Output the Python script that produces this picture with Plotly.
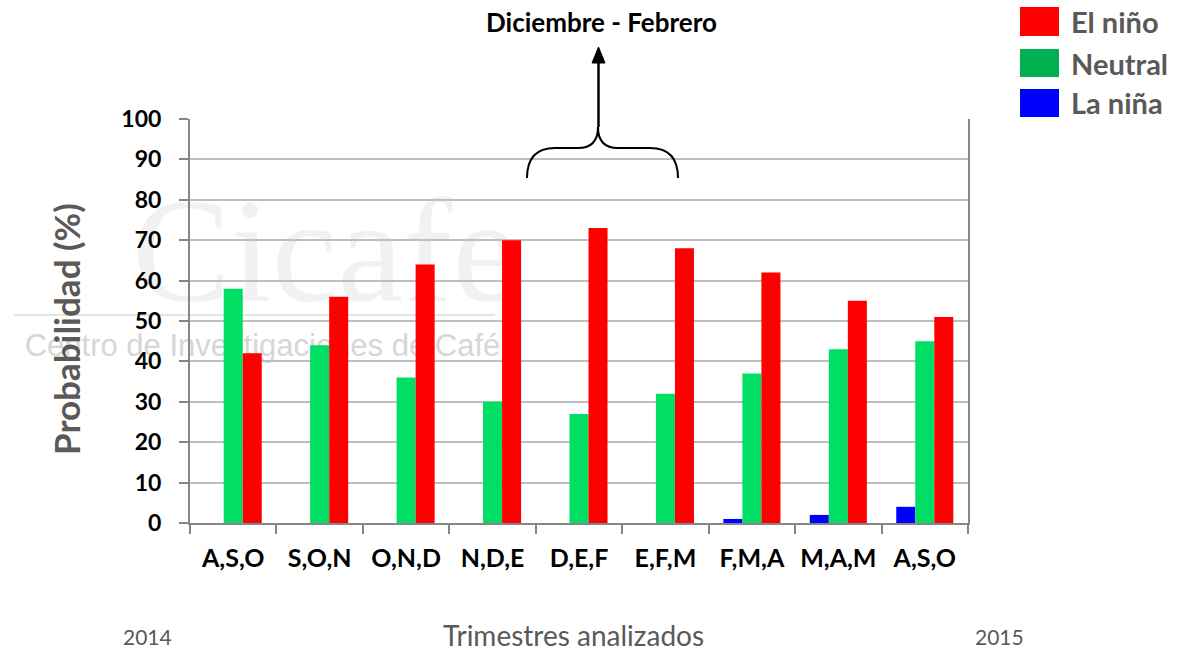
import plotly.graph_objects as go

categories = ["A,S,O", "S,O,N", "O,N,D", "N,D,E", "D,E,F", "E,F,M", "F,M,A", "M,A,M", "A,S,O "]
la_nina = [0, 0, 0, 0, 0, 0, 1, 2, 4]
neutral = [58, 44, 36, 30, 27, 32, 37, 43, 45]
el_nino = [42, 56, 64, 70, 73, 68, 62, 55, 51]
tick_vals = [0, 10, 20, 30, 40, 50, 60, 70, 80, 90, 100]

W, H = 1185, 652
L, R, T, B = 190, 968, 119, 523


def px(x):
    return (x - L) / (R - L)


def py(y):
    return (B - y) / (B - T)


FONT = "Lato"
GRAY = "#595959"

fig = go.Figure()
fig.add_trace(go.Bar(x=categories, y=la_nina, name="La niña", marker_color="#0000FF", marker_line_width=0))
fig.add_trace(go.Bar(x=categories, y=neutral, name="Neutral", marker_color="#00DE63", marker_line_width=0))
fig.add_trace(go.Bar(x=categories, y=el_nino, name="El niño", marker_color="#FF0000", marker_line_width=0))

shapes = []
annotations = []

# watermark (below traces)
shapes.append(dict(type="rect", xref="paper", yref="paper", layer="below",
                   x0=px(140), x1=px(510), y0=py(300), y1=py(170),
                   line=dict(width=0), fillcolor="rgba(0,0,0,0)",
                   label=dict(text="Cicafe", font=dict(family="Liberation Serif", size=148, color="#f1f1f1"),
                              textposition="middle center")))
shapes.append(dict(type="line", xref="paper", yref="paper", layer="below",
                   x0=px(14), x1=px(495), y0=py(315), y1=py(315),
                   line=dict(color="#e4e4e4", width=2)))
shapes.append(dict(type="rect", xref="paper", yref="paper", layer="below",
                   x0=px(15), x1=px(510), y0=py(362), y1=py(322),
                   line=dict(width=0), fillcolor="rgba(0,0,0,0)",
                   label=dict(text="Centro de Investigaciones de Café",
                              font=dict(family="Liberation Sans", size=31, color="#d6d6d6"),
                              textposition="middle center")))

# brace
bx = [(527, 178), (527, 160), (535, 148), (555, 148), (578, 148), (592, 148), (598, 140), (598, 127),
      (598, 140), (604, 148), (618, 148), (650, 148), (670, 148), (678, 160), (678, 178)]
P = [f"{px(a):.5f},{py(b):.5f}" for a, b in bx]
path = (f"M {P[0]} C {P[1]} {P[2]} {P[3]} L {P[4]} C {P[5]} {P[6]} {P[7]} "
        f"C {P[8]} {P[9]} {P[10]} L {P[11]} C {P[12]} {P[13]} {P[14]}")
shapes.append(dict(type="path", xref="paper", yref="paper", path=path,
                   line=dict(color="black", width=2)))
# arrow
shapes.append(dict(type="line", xref="paper", yref="paper",
                   x0=px(598.5), x1=px(598.5), y0=py(127), y1=py(60), line=dict(color="black", width=2.5)))
shapes.append(dict(type="path", xref="paper", yref="paper",
                   path=f"M {px(592):.5f},{py(63):.5f} L {px(605):.5f},{py(63):.5f} L {px(598.5):.5f},{py(47):.5f} Z",
                   fillcolor="black", line=dict(color="black", width=1)))

annotations.append(dict(text="<b>Diciembre - Febrero</b>", xref="paper", yref="paper",
                        x=px(601), y=py(22), showarrow=False,
                        font=dict(family=FONT, size=26, color="black"), xanchor="center", yanchor="middle"))

# legend
leg = [("El niño", "#FF0000", 7, 36), ("Neutral", "#00B050", 49, 77), ("La niña", "#0000FF", 89, 117)]
for name, col, y0, y1 in leg:
    shapes.append(dict(type="rect", xref="paper", yref="paper",
                       x0=px(1020), x1=px(1059), y0=py(y1), y1=py(y0),
                       fillcolor=col, line=dict(width=0)))
    annotations.append(dict(text=f"<b>{name}</b>", xref="paper", yref="paper",
                            x=px(1069), y=py((y0 + y1) / 2), showarrow=False,
                            xanchor="left", yanchor="middle",
                            font=dict(family=FONT, size=29, color=GRAY)))

annotations.append(dict(text="<b>Probabilidad (%)</b>", xref="paper", yref="paper",
                        x=px(66), y=py(329), showarrow=False, textangle=-90,
                        font=dict(family=FONT, size=35, color=GRAY), xanchor="center", yanchor="middle"))
annotations.append(dict(text="Trimestres analizados", xref="paper", yref="paper",
                        x=px(573), y=py(635), showarrow=False, borderpad=0,
                        font=dict(family=FONT, size=28, color=GRAY), xanchor="center", yanchor="middle"))
annotations.append(dict(text="2014", xref="paper", yref="paper",
                        x=px(147), y=py(636), showarrow=False,
                        font=dict(family=FONT, size=21, color=GRAY), xanchor="center", yanchor="middle"))
annotations.append(dict(text="2015", xref="paper", yref="paper",
                        x=px(999), y=py(636), showarrow=False,
                        font=dict(family=FONT, size=21, color=GRAY), xanchor="center", yanchor="middle"))

fig.update_layout(
    width=W, height=H,
    margin=dict(l=L, r=W - R, t=T, b=H - B, pad=0),
    paper_bgcolor="white", plot_bgcolor="rgba(0,0,0,0)",
    barmode="group", bargap=0.34, bargroupgap=0,
    showlegend=False,
    shapes=shapes, annotations=annotations,
    font=dict(family=FONT),
)
fig.update_xaxes(
    type="category", range=[-0.5, 8.5], showgrid=False,
    showline=True, linecolor="#868686", linewidth=2, mirror=False,
    ticks="outside", tickson="boundaries", ticklen=9, tickcolor="#868686", tickwidth=2,
    ticklabelstandoff=12,
    tickfont=dict(family=FONT, size=25, color="black"),
    tickvals=categories, ticktext=[f"<b>{c.strip()}</b>" for c in categories],
)
fig.update_yaxes(
    range=[0, 100], tickvals=tick_vals, ticktext=[f"<b>{v}</b>" for v in tick_vals],
    showgrid=True, gridcolor="#BEBEBE", gridwidth=2,
    showline=True, linecolor="#868686", linewidth=2, mirror=True,
    ticks="outside", ticklen=9, tickcolor="#868686", tickwidth=2,
    ticklabelstandoff=13,
    tickfont=dict(family=FONT, size=23, color="black"), zeroline=False,
)
fig.write_html("out.html", config={"displayModeBar": False},
               post_script="document.body.style.margin='0px';document.body.style.overflow='hidden';"
                           "document.documentElement.style.overflow='hidden';")
